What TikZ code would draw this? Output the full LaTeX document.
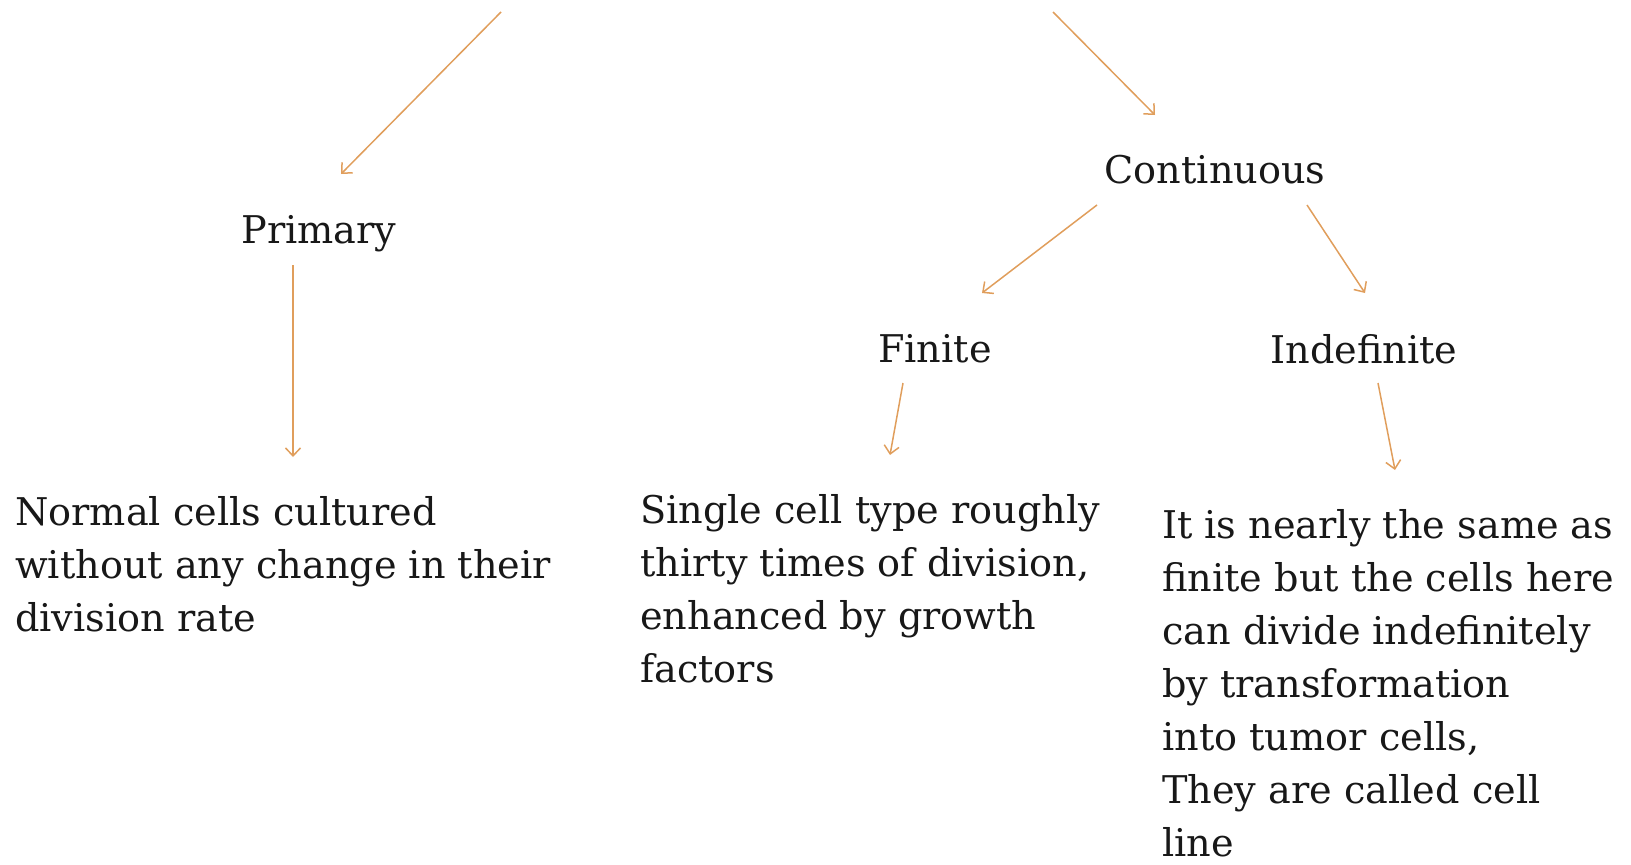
\documentclass[tikz,border=0pt]{standalone}
\usepackage{fontspec}
\setmainfont{DejaVu Serif}
\usetikzlibrary{arrows.meta, positioning}
\definecolor{arrowtan}{RGB}{224,158,92}
\definecolor{inkgray}{RGB}{24,24,24}

\tikzset{
    catname/.style={anchor=base, inner sep=0pt, text=inkgray,
        font=\fontsize{38.2}{53}\selectfont},
    desc/.style={anchor=north west, inner sep=0pt, align=left, text=inkgray,
        font=\fontsize{38.2}{53}\selectfont},
    flow/.style={draw=arrowtan, line width=1.5pt,
        -{Straight Barb[length=8pt, width=15pt]}},
}

\begin{document}
\begin{tikzpicture}[x=1pt, y=-1pt]
\useasboundingbox (0,0) rectangle (1631,865);

% category names
\coordinate (srcleft) at (501,12);
\coordinate (srcright) at (1053,12);
\node[catname] (primary) at (319,243) {Primary};
\node[catname] (continuous) at (1215,183) {Continuous};
\node[catname] (finite) at (935,362) {Finite};
\node[catname] (indefinite) at (1364,363) {Indefinite};

% descriptions
\node[desc] (primtext) at (15,488) {\strut Normal cells cultured\\
    without any change in their\\ division rate};
\node[desc] (fintext) at (640,486) {\strut Single cell type roughly\\
    thirty times of division,\\ enhanced by growth\\ factors};
\node[desc] (indeftext) at (1162,501) {\strut It is nearly the same as\\
    finite but the cells here\\ can divide indefinitely\\ by transformation\\
    into tumor cells,\\ They are called cell\\ line};

% connectors
\draw[flow] (srcleft) -- ([shift={(22,-69)}]primary.base);
\draw[flow] (srcright) -- ([shift={(-60,-68)}]continuous.base);
\draw[flow] ([shift={(-118,22)}]continuous.base) -- ([shift={(47,-69)}]finite.base);
\draw[flow] ([shift={(92,22)}]continuous.base) -- ([shift={(1,-70)}]indefinite.base);
\draw[flow] ([shift={(-26,22)}]primary.base) -- ([shift={(278,-31)}]primtext.north west);
\draw[flow] ([shift={(-32,21)}]finite.base) -- ([shift={(250,-31)}]fintext.north west);
\draw[flow] ([shift={(14,20)}]indefinite.base) -- ([shift={(233,-31)}]indeftext.north west);
\end{tikzpicture}
\end{document}
